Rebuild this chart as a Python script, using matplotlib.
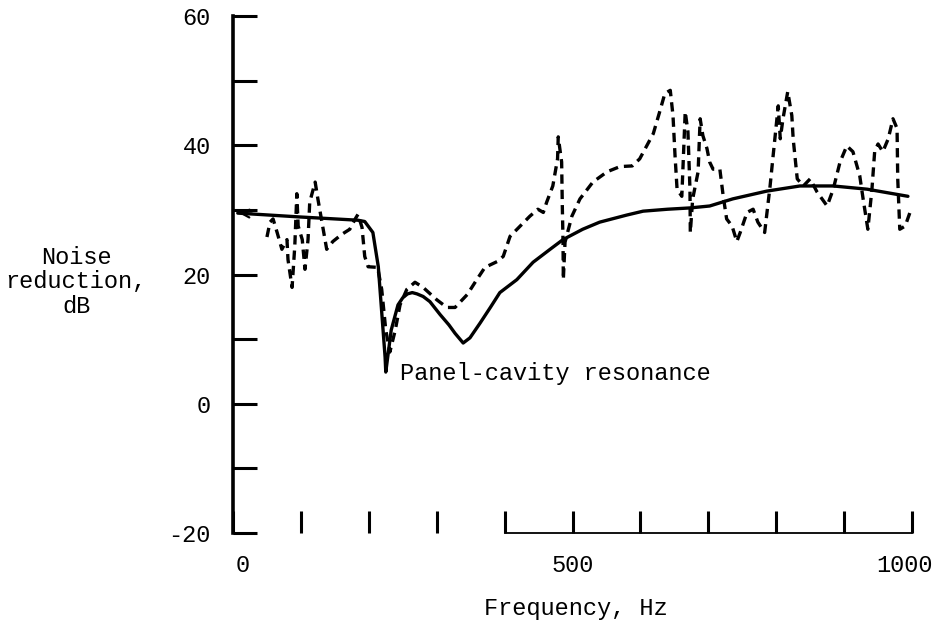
import matplotlib
matplotlib.use("Agg")
import matplotlib.pyplot as plt
import matplotlib.transforms as mtransforms

# Solid curve (theory)
solid_f = [7, 99, 184, 194, 206, 214, 224, 225, 233, 243, 250, 257, 264, 271, 280, 290, 305, 318, 327,
           339, 349, 364, 379, 393, 418, 442, 467, 486, 515, 540, 580, 604, 640, 673, 702, 736, 786,
           835, 884, 934, 994]
solid_nr = [29.5, 28.9, 28.4, 28.2, 26.5, 21.2, 7.2, 4.9, 11.4, 15.3, 16.4, 17.0, 17.2, 17.0, 16.6, 15.8, 13.8, 12.2, 10.9,
            9.4, 10.2, 12.5, 14.9, 17.2, 19.2, 21.9, 23.9, 25.4, 27.0, 28.1, 29.2, 29.8, 30.1, 30.3, 30.6, 31.7, 32.9,
            33.7, 33.7, 33.2, 32.1]

# Dashed curve (measurement)
dash_f = [50, 54.5, 59, 65, 72, 79.5, 81, 87, 91, 94, 96, 102, 106, 110.5, 113, 121, 125, 131,
          138, 147, 160, 172, 180, 184, 190, 194, 199, 213, 219, 225, 231, 239, 246, 256, 268,
          280, 300, 315, 327, 345, 359, 371, 389, 398, 408, 423, 437, 449, 457, 462, 471, 478,
          479, 484, 485, 486, 486.5, 489, 499, 511, 530, 551, 570, 588, 599, 619, 629, 636, 644,
          648, 651, 654, 661, 666, 670, 673, 673.5, 677, 685, 688, 692, 698, 702, 707, 717, 722,
          727, 735, 742, 747, 757, 766, 773, 783, 791, 795, 803, 806, 810, 817, 823, 825, 831,
          840, 850, 860, 875, 884, 894, 904, 913, 923, 928, 935, 941, 945, 950, 957, 965, 972,
          978, 979, 982, 990, 997]
dash_nr = [25.8, 28.1, 28.6, 26.5, 23.9, 25.4, 22.3, 18.0, 24.4, 32.5, 27.5, 25.4, 20.8, 25.4, 31.2, 34.3, 31.7, 28.1,
           23.9, 25.1, 26.2, 27.0, 28.6, 29.3, 27.3, 22.8, 21.2, 21.1, 17.7, 11.4, 8.0, 11.4, 15.3, 17.7, 18.8,
           18.0, 16.1, 14.9, 14.9, 16.9, 19.2, 21.1, 22.0, 22.8, 25.9, 27.5, 29.0, 30.1, 29.6, 31.2, 33.7, 37.9,
           41.3, 37.4, 30.6, 25.4, 19.2, 25.0, 29.0, 31.7, 34.3, 35.9, 36.7, 36.8, 37.9, 41.8, 45.4, 48.0, 48.5,
           44.6, 38.4, 33.2, 32.1, 45.2, 42.1, 33.2, 26.5, 31.7, 35.9, 44.1, 41.5, 39.5, 37.4, 36.3, 36.3, 32.1,
           28.6, 27.5, 25.1, 26.5, 29.6, 30.1, 28.1, 26.5, 33.7, 37.9, 46.1, 41.0, 44.1, 48.3, 44.6, 41.0, 34.8,
           33.7, 34.8, 32.8, 30.6, 33.2, 37.4, 39.9, 39.0, 35.3, 31.7, 27.0, 33.2, 39.0, 40.2, 39.0, 41.0, 44.1,
           42.6, 34.8, 27.0, 27.5, 29.6]

yticks = [-20, -10, 0, 10, 20, 30, 40, 50, 60]
ytick_labels = ["-20", "", "0", "", "20", "", "40", "", "60"]
xticks = [0, 100, 200, 300, 400, 500, 600, 700, 800, 900, 1000]
xtick_labels = ["0", "", "", "", "", "500", "", "", "", "", "1000"]

FONT = "Liberation Mono"
FS = 17

fig = plt.figure(figsize=(9.36, 6.22), dpi=100)
ax = fig.add_axes([233 / 936, 89 / 622, 679 / 936, 517 / 622])

ax.plot(solid_f, solid_nr, color="black", lw=2.4, solid_joinstyle="round",
        solid_capstyle="round", clip_on=False)
ax.plot(dash_f, dash_nr, color="black", lw=2.4, linestyle=(0, (2.8, 1.8)),
        dash_joinstyle="round", clip_on=False)
ax.annotate("", xy=(solid_f[0] - 2, solid_nr[0]), xytext=(solid_f[0] + 25, solid_nr[0] - 0.1),
            arrowprops=dict(arrowstyle="->", lw=1.6, color="black", mutation_scale=14))

ax.text(246, 4.7, "Panel-cavity resonance", fontsize=FS, family=FONT,
        ha="left", va="center")

ax.set_xlim(0, 1000)
ax.set_ylim(-20, 60)
ax.set_xticks(xticks)
ax.set_xticklabels(xtick_labels)
ax.set_yticks(yticks)
ax.set_yticklabels(ytick_labels)
for lab in ax.get_xticklabels() + ax.get_yticklabels():
    lab.set_fontfamily(FONT)
    lab.set_fontsize(FS)

ax.tick_params(axis="y", direction="in", length=17, width=2.2, pad=16)
ax.tick_params(axis="x", direction="in", length=16, width=2.2, pad=15)

# nudge first and last x labels like the typewritten original
xl = ax.get_xticklabels()
xl[0].set_transform(xl[0].get_transform() + mtransforms.ScaledTranslation(10 / 100, 0, fig.dpi_scale_trans))
xl[-1].set_transform(xl[-1].get_transform() + mtransforms.ScaledTranslation(-7 / 100, 0, fig.dpi_scale_trans))

ax.spines["top"].set_visible(False)
ax.spines["right"].set_visible(False)
ax.spines["left"].set_linewidth(2.6)
ax.spines["bottom"].set_linewidth(1.3)
ax.spines["bottom"].set_bounds(400, 1000)

fig.text(576 / 936, 1 - 608 / 622, "Frequency, Hz", fontsize=FS, family=FONT,
         ha="center", va="center")
fig.text(76 / 936, 1 - 282 / 622, "Noise\nreduction,\ndB", fontsize=FS, family=FONT,
         ha="center", va="center", multialignment="center", linespacing=1.1)

fig.savefig("out.png", dpi=100)
